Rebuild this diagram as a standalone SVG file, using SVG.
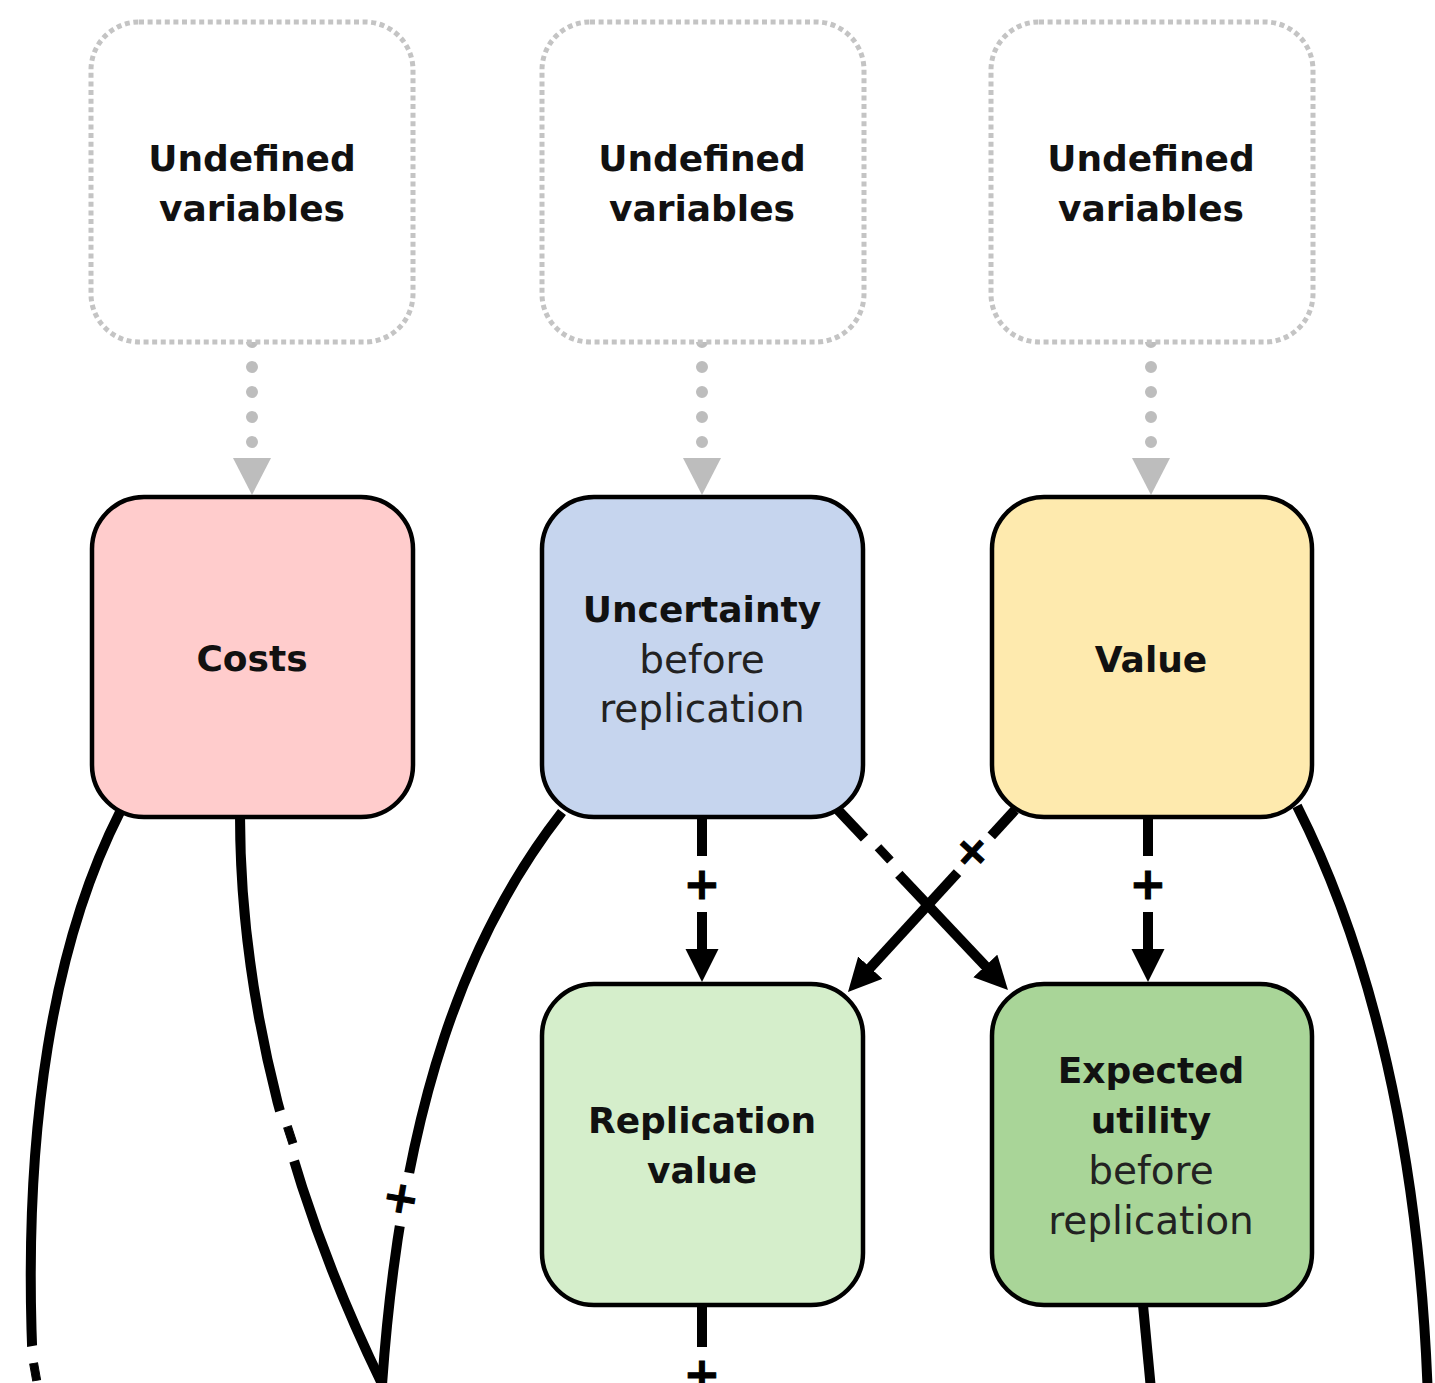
<svg xmlns="http://www.w3.org/2000/svg" width="1435" height="1383" viewBox="0 0 1435 1383">
<style>
.und{fill:#ffffff;stroke:#c4c4c4;stroke-width:5;stroke-dasharray:5 3.6}
.node{stroke:#000;stroke-width:4.5}
.b{font-family:"DejaVu Sans","Liberation Sans",sans-serif;font-weight:bold;font-size:36px;fill:#111;text-anchor:middle}
.r{font-family:"DejaVu Sans","Liberation Sans",sans-serif;font-size:39px;fill:#222;text-anchor:middle}
.dots{fill:none;stroke:#bdbdbd;stroke-width:12;stroke-linecap:round;stroke-dasharray:0 25}
.tri{fill:#bdbdbd}
.edge{fill:none;stroke:#000;stroke-width:10}
.lbl{font-family:"DejaVu Sans","Liberation Sans",sans-serif;font-weight:bold;font-size:44px;fill:#000;stroke:#000;stroke-width:1;text-anchor:middle}
.mn{font-size:56px}
.lblbg{fill:#fff}
</style>
<defs>
<marker id="ah" markerUnits="userSpaceOnUse" markerWidth="34" markerHeight="34" refX="8" refY="16.5" orient="auto">
<path d="M0,0 L33,16.5 L0,33 z" fill="#000"/>
</marker>
</defs>

<g id="connectors">
<!-- gray dotted arrows -->
<path class="dots" d="M252,342 L252,444"/>
<polygon class="tri" points="233,458 271,458 252,495"/>
<path class="dots" d="M702,342 L702,444"/>
<polygon class="tri" points="683,458 721,458 702,495"/>
<path class="dots" d="M1151,342 L1151,444"/>
<polygon class="tri" points="1132,458 1170,458 1151,495"/>

<!-- black connectors -->
<path class="edge" d="M702,815 L702,957" marker-end="url(#ah)"/>
<path class="edge" d="M1148,815 L1148,957" marker-end="url(#ah)"/>
<path class="edge" d="M838,810 L990.8,971.8" marker-end="url(#ah)"/>
<path class="edge" d="M1015,810 L864.9,973.6" marker-end="url(#ah)"/>
<path class="edge" d="M120,812 C60,930 15,1120 36,1420"/>
<path class="edge" d="M240,815 C240,1000 290,1200 390,1400"/>
<path class="edge" d="M562,812 C470,930 400,1100 381,1400"/>
<path class="edge" d="M1297,806 C1370,950 1420,1150 1428,1400"/>
<path class="edge" d="M702,1305 L702,1400"/>
<path class="edge" d="M1143,1305 L1152,1400"/>

<!-- labels -->
<g transform="translate(702,884) rotate(90)"><rect class="lblbg" x="-28" y="-20" width="56" height="40"/><text class="lbl" transform="rotate(-90)" x="0" y="15">+</text></g>
<g transform="translate(1148,884) rotate(90)"><rect class="lblbg" x="-28" y="-20" width="56" height="40"/><text class="lbl" transform="rotate(-90)" x="0" y="15">+</text></g>
<g transform="translate(884,854) rotate(46.7)"><rect class="lblbg" x="-25" y="-18" width="50" height="36"/><text class="lbl mn" x="0" y="16">-</text></g>
<g transform="translate(973,853) rotate(132.5)"><rect class="lblbg" x="-25" y="-18" width="50" height="36"/><text class="lbl" x="0" y="15">+</text></g>
<g transform="translate(290,1135) rotate(72)"><rect class="lblbg" x="-26" y="-18" width="52" height="36"/><text class="lbl mn" x="0" y="16">-</text></g>
<g transform="translate(402,1199) rotate(100)"><rect class="lblbg" x="-27" y="-18" width="54" height="36"/><text class="lbl" x="0" y="15">+</text></g>
<g transform="translate(35,1372) rotate(80)"><rect class="lblbg" x="-26" y="-18" width="52" height="36"/><text class="lbl mn" x="0" y="16">-</text></g>
<g transform="translate(702,1374) rotate(90)"><rect class="lblbg" x="-27" y="-20" width="54" height="40"/><text class="lbl" transform="rotate(-90)" x="0" y="15">+</text></g>
</g>

<g id="undef1"><rect class="und" x="91" y="22" width="322" height="320" rx="48"/><text class="b" x="252" y="171">Undefined</text><text class="b" x="252" y="221">variables</text></g>
<g id="undef2"><rect class="und" x="542" y="22" width="322" height="320" rx="48"/><text class="b" x="702" y="171">Undefined</text><text class="b" x="702" y="221">variables</text></g>
<g id="undef3"><rect class="und" x="991" y="22" width="322" height="320" rx="48"/><text class="b" x="1151" y="171">Undefined</text><text class="b" x="1151" y="221">variables</text></g>

<g id="costs"><rect class="node" x="92" y="497" width="321" height="320" rx="52" fill="#ffcccc"/><text class="b" x="252" y="671">Costs</text></g>
<g id="uncertainty"><rect class="node" x="542" y="497" width="321" height="320" rx="52" fill="#c6d5ee"/><text class="b" x="702" y="622">Uncertainty</text><text class="r" x="702" y="673">before</text><text class="r" x="702" y="722">replication</text></g>
<g id="value"><rect class="node" x="992" y="497" width="320" height="320" rx="52" fill="#feeaae"/><text class="b" x="1151" y="672">Value</text></g>
<g id="replication"><rect class="node" x="542" y="984" width="321" height="321" rx="52" fill="#d5eecb"/><text class="b" x="702" y="1133">Replication</text><text class="b" x="702" y="1183">value</text></g>
<g id="expected"><rect class="node" x="992" y="984" width="320" height="321" rx="52" fill="#a9d598"/><text class="b" x="1151" y="1083">Expected</text><text class="b" x="1151" y="1133">utility</text><text class="r" x="1151" y="1184">before</text><text class="r" x="1151" y="1234">replication</text></g>
</svg>
